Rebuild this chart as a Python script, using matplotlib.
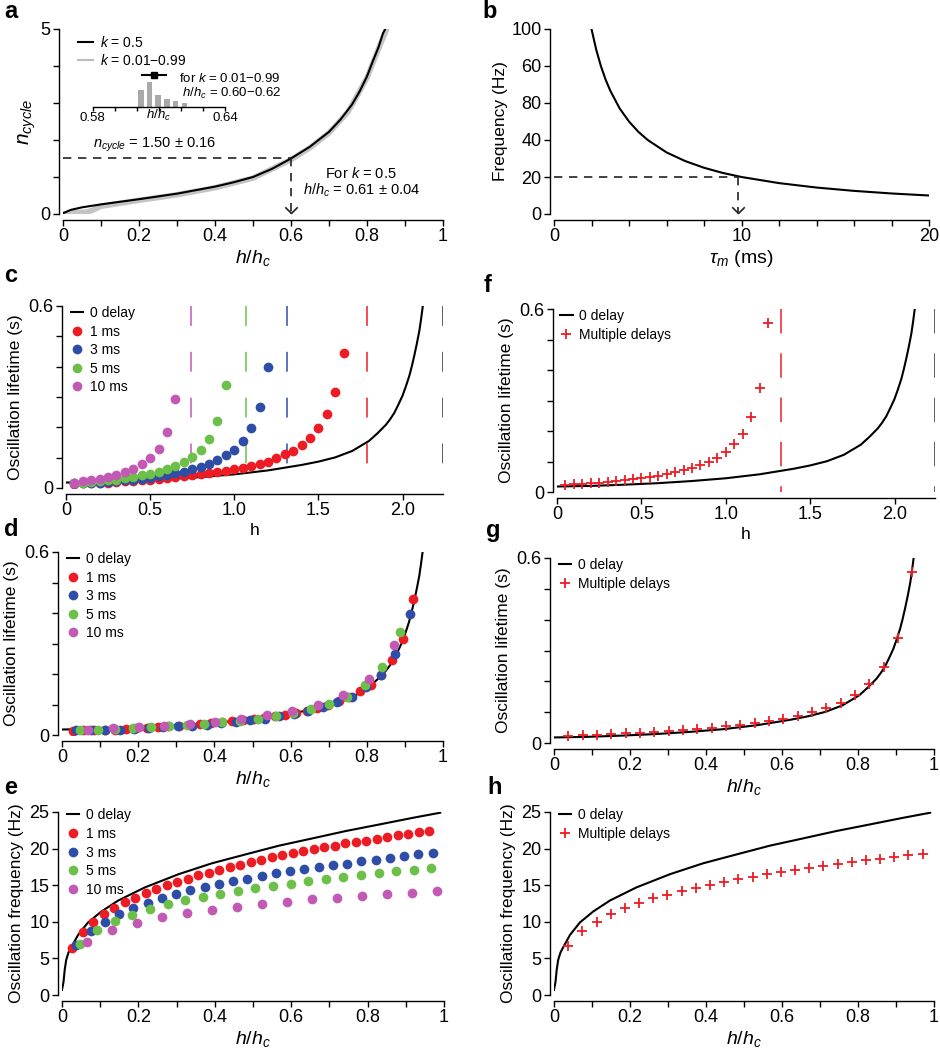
import matplotlib
matplotlib.use('Agg')
import matplotlib.pyplot as plt
import numpy as np
from matplotlib.lines import Line2D

plt.rcParams['font.family'] = ['Liberation Sans', 'DejaVu Sans']
plt.rcParams['mathtext.fontset'] = 'custom'
plt.rcParams['mathtext.rm'] = 'Liberation Sans'
plt.rcParams['mathtext.it'] = 'Liberation Sans:italic'
plt.rcParams['mathtext.bf'] = 'Liberation Sans:bold'
plt.rcParams['axes.linewidth'] = 1.0

# ---------------- data ----------------
# panel a
a_x = [0.0, 0.02, 0.05, 0.1, 0.2, 0.3, 0.4, 0.45, 0.5, 0.55, 0.6, 0.65, 0.7, 0.73, 0.76, 0.78, 0.8, 0.815,
       0.83, 0.842, 0.848]
a_n = [0.02, 0.11, 0.18, 0.26, 0.40, 0.55, 0.74, 0.86, 1.0, 1.22, 1.50, 1.82, 2.22, 2.55, 2.95, 3.3, 3.72, 4.12,
       4.5, 4.88, 5.0]
a_gray_x = [0.0, 0.03, 0.06, 0.075, 0.1, 0.2, 0.3, 0.4, 0.5, 0.6, 0.65, 0.7, 0.75, 0.8, 0.83, 0.852]
a_gray_n = [0.0, 0.04, 0.05, 0.09, 0.21, 0.37, 0.52, 0.71, 0.97, 1.47, 1.79, 2.19, 2.76, 3.68, 4.46, 5.0]
hist_centers = [0.602, 0.6057, 0.6097, 0.6137, 0.6176, 0.6216]
hist_heights = [17, 25, 12, 8, 6, 4]
hist_mean, hist_err, hist_mark_y = 0.6078, 0.006, 32
a_guide_x, a_guide_y = 0.6, 1.5

# panel b
tau_ms = [2, 2.25, 2.5, 2.75, 3, 3.5, 4, 4.5, 5, 6, 7, 8, 9, 10, 12, 14, 16, 18, 20]
freq_hz = [100, 88.9, 80, 72.7, 66.7, 57.1, 50, 44.4, 40, 33.3, 28.6, 25, 22.2, 20, 16.7, 14.3, 12.5, 11.1, 10]
b_guide_x, b_guide_y = 9.8, 20
b_yticks = [0, 20, 40, 60, 80, 100]
b_yticklabels = ['0', '20', '40', '80', '60', '100']

# 0-delay lifetime curve (vs h)
lt0_h = [0.0, 0.2, 0.4, 0.6, 0.8, 1.0, 1.2, 1.4, 1.5, 1.6, 1.7, 1.8, 1.85, 1.9, 1.925, 1.95, 1.975, 2.0, 2.02,
         2.04, 2.055, 2.07, 2.085, 2.1, 2.11, 2.12]
lt0 = [0.018, 0.020, 0.024, 0.029, 0.036, 0.045, 0.058, 0.076, 0.087, 0.101, 0.122, 0.155, 0.18, 0.208, 0.226,
       0.247, 0.275, 0.305, 0.336, 0.37, 0.402, 0.438, 0.477, 0.52, 0.558, 0.60]
hc0 = 2.24

delays = ['1 ms', '3 ms', '5 ms', '10 ms']
colors = ['#ED1C24', '#2E4DA7', '#6CC04A', '#C259B5']
hc_delay = [1.79, 1.315, 1.07, 0.745]

h_1ms = [0.05, 0.10, 0.15, 0.20, 0.25, 0.30, 0.35, 0.40, 0.45, 0.50, 0.55, 0.60, 0.65, 0.70, 0.75, 0.80, 0.85,
         0.90, 0.95, 1.00, 1.05, 1.10, 1.15, 1.20, 1.25, 1.30, 1.35, 1.40, 1.45, 1.50, 1.55, 1.60, 1.65]
lt_1ms = [0.014, 0.015, 0.016, 0.017, 0.018, 0.020, 0.022, 0.024, 0.026, 0.028, 0.031, 0.033, 0.036, 0.039, 0.043,
          0.046, 0.049, 0.053, 0.057, 0.061, 0.066, 0.072, 0.079, 0.087, 0.099, 0.111, 0.123, 0.143, 0.165, 0.198,
          0.245, 0.316, 0.446]
h_3ms = [0.05, 0.10, 0.15, 0.20, 0.25, 0.30, 0.35, 0.40, 0.45, 0.50, 0.55, 0.60, 0.65, 0.70, 0.75, 0.80, 0.85,
         0.90, 0.95, 1.00, 1.05, 1.10, 1.15, 1.20]
lt_3ms = [0.015, 0.016, 0.017, 0.018, 0.021, 0.023, 0.025, 0.028, 0.031, 0.034, 0.038, 0.043, 0.048, 0.054, 0.062,
          0.070, 0.080, 0.091, 0.108, 0.126, 0.156, 0.198, 0.266, 0.398]
h_5ms = [0.05, 0.10, 0.15, 0.20, 0.25, 0.30, 0.35, 0.40, 0.45, 0.50, 0.55, 0.60, 0.65, 0.70, 0.75, 0.80, 0.85,
         0.90, 0.95]
lt_5ms = [0.016, 0.017, 0.020, 0.022, 0.025, 0.028, 0.032, 0.036, 0.042, 0.047, 0.054, 0.062, 0.073, 0.086, 0.102,
          0.126, 0.163, 0.222, 0.338]
h_10ms = [0.05, 0.10, 0.15, 0.20, 0.25, 0.30, 0.35, 0.40, 0.45, 0.50, 0.55, 0.60, 0.65]
lt_10ms = [0.018, 0.022, 0.026, 0.031, 0.036, 0.043, 0.052, 0.064, 0.078, 0.100, 0.130, 0.184, 0.295]

# multiple delays lifetime
h_multi = [0.05, 0.10, 0.15, 0.20, 0.25, 0.30, 0.35, 0.40, 0.45, 0.50, 0.55, 0.60, 0.65, 0.70, 0.75, 0.80, 0.85,
           0.90, 0.95, 1.00, 1.05, 1.10, 1.15, 1.20, 1.25]
lt_multi = [0.023, 0.025, 0.027, 0.029, 0.031, 0.034, 0.037, 0.040, 0.043, 0.046, 0.049, 0.054, 0.059, 0.065,
            0.071, 0.079, 0.088, 0.099, 0.113, 0.131, 0.156, 0.191, 0.245, 0.340, 0.555]
hc_multi = 1.325

# frequency data (panels e, h)
f0_x = [0.0, 0.004, 0.007, 0.011, 0.017, 0.025, 0.042, 0.068, 0.103, 0.147, 0.217, 0.305, 0.393, 0.48, 0.568,
        0.656, 0.743, 0.831, 0.918, 0.99]
f0 = [0.7, 1.8, 3.4, 4.8, 5.8, 6.6, 8.2, 9.9, 11.4, 12.9, 14.7, 16.5, 18.0, 19.2, 20.4, 21.4, 22.4, 23.3, 24.2, 24.9]

fh_1ms = [0.05, 0.10, 0.15, 0.20, 0.25, 0.30, 0.35, 0.40, 0.45, 0.50, 0.55, 0.60, 0.65, 0.70, 0.75, 0.80, 0.85,
          0.90, 0.95, 1.00, 1.05, 1.10, 1.15, 1.20, 1.25, 1.30, 1.35, 1.40, 1.45, 1.50, 1.55, 1.60, 1.65, 1.70, 1.75]
f_1ms = [6.45, 8.6, 10.0, 11.05, 11.95, 12.7, 13.3, 13.95, 14.5, 15.0, 15.5, 15.9, 16.35, 16.7, 17.1, 17.5, 17.8,
         18.2, 18.5, 18.8, 19.1, 19.4, 19.7, 19.95, 20.2, 20.4, 20.7, 20.9, 21.1, 21.3, 21.6, 21.8, 21.95, 22.2, 22.4]
fh_3ms = [0.05, 0.10, 0.15, 0.20, 0.25, 0.30, 0.35, 0.40, 0.45, 0.50, 0.55, 0.60, 0.65, 0.70, 0.75, 0.80, 0.85,
          0.90, 0.95, 1.00, 1.05, 1.10, 1.15, 1.20, 1.25, 1.30]
f_3ms = [6.8, 8.7, 10.0, 11.05, 11.9, 12.6, 13.2, 13.8, 14.3, 14.7, 15.15, 15.6, 15.9, 16.3, 16.6, 16.95, 17.2,
         17.5, 17.7, 17.95, 18.3, 18.5, 18.7, 18.95, 19.2, 19.4]
fh_5ms = [0.05, 0.10, 0.15, 0.20, 0.25, 0.30, 0.35, 0.40, 0.45, 0.50, 0.55, 0.60, 0.65, 0.70, 0.75, 0.80, 0.85,
          0.90, 0.95, 1.00, 1.05]
f_5ms = [7.0, 8.85, 10.1, 10.9, 11.7, 12.4, 12.95, 13.4, 13.85, 14.2, 14.6, 14.95, 15.2, 15.6, 15.9, 16.1, 16.45,
         16.7, 16.9, 17.1, 17.3]
fh_10ms = [0.05, 0.10, 0.15, 0.20, 0.25, 0.30, 0.35, 0.40, 0.45, 0.50, 0.55, 0.60, 0.65, 0.70, 0.75]
f_10ms = [7.25, 8.85, 9.85, 10.7, 11.15, 11.6, 12.05, 12.4, 12.75, 13.05, 13.3, 13.55, 13.75, 13.95, 14.15]
hc_freq = [1.82, 1.34, 1.086, 0.763]

fh_multi = [0.05, 0.10, 0.15, 0.20, 0.25, 0.30, 0.35, 0.40, 0.45, 0.50, 0.55, 0.60, 0.65, 0.70, 0.75, 0.80, 0.85,
            0.90, 0.95, 1.00, 1.05, 1.10, 1.15, 1.20, 1.25, 1.30]
f_multi = [6.7, 8.7, 10.0, 11.05, 11.95, 12.6, 13.2, 13.7, 14.2, 14.6, 15.0, 15.45, 15.8, 16.1, 16.5, 16.8, 17.1,
           17.4, 17.6, 17.9, 18.15, 18.4, 18.6, 18.85, 19.1, 19.3]
hc_freq_multi = 1.34

lt_h_sets = [h_1ms, h_3ms, h_5ms, h_10ms]
lt_sets = [lt_1ms, lt_3ms, lt_5ms, lt_10ms]
f_h_sets = [fh_1ms, fh_3ms, fh_5ms, fh_10ms]
f_sets = [f_1ms, f_3ms, f_5ms, f_10ms]

# ---------------- figure ----------------
W, H = 940, 1050
fig = plt.figure(figsize=(9.4, 10.5), dpi=100)


def add_ax(x0, x1, ytop, ybot):
    return fig.add_axes([x0 / W, 1 - ybot / H, (x1 - x0) / W, (ybot - ytop) / H])


TICK_FS = 13
LAB_FS = 12.5
LEG_FS = 10
RED = '#ED1C24'


def style(ax, xlim, ylim, xticks, xlabels, yticks, ylabels):
    for s in ['top', 'right']:
        ax.spines[s].set_visible(False)
    ax.spines['left'].set_position(('outward', 3))
    ax.spines['bottom'].set_position(('outward', 4))
    ax.set_xlim(*xlim)
    ax.set_ylim(*ylim)
    ax.set_xticks(xticks)
    ax.set_xticklabels(xlabels)
    ax.set_yticks(yticks)
    ax.set_yticklabels(ylabels)
    ax.tick_params(direction='out', length=4, width=1, labelsize=TICK_FS, pad=2)


hx_ticks = [0, 0.1, 0.2, 0.3, 0.4, 0.5, 0.6, 0.7, 0.8, 0.9, 1.0]
hx_labels = ['0', '', '0.2', '', '0.4', '', '0.6', '', '0.8', '', '1']
lt_yticks = [0, 0.1, 0.2, 0.3, 0.4, 0.5, 0.6]
lt_ylabels = ['0', '', '', '', '', '', '0.6']
h_ticks = [0, 0.5, 1.0, 1.5, 2.0]
h_labels = ['0', '0.5', '1.0', '1.5', '2.0']
fr_ticks = [0, 5, 10, 15, 20, 25]
fr_labels = ['0', '5', '10', '15', '20', '25']

vee = [(-1, 1), (0, 0), (1, 1)]

# ---- panel a ----
ax = add_ax(63, 443, 29, 214)
style(ax, (0, 1), (0, 5), hx_ticks, hx_labels, [0, 1, 2, 3, 4, 5], ['0', '', '', '', '', '5'])
ax.plot(a_gray_x, a_gray_n, color='#c4c4c4', lw=4, solid_capstyle='round')
ax.plot(a_x, a_n, color='black', lw=1.5)
ax.plot([0, a_guide_x], [a_guide_y, a_guide_y], color='#222222', lw=1.2, dashes=(5, 4))
ax.plot([a_guide_x, a_guide_x], [a_guide_y, 0.05], color='#222222', lw=1.2, dashes=(5, 4))
ax.plot([a_guide_x], [0.02], marker=vee, ms=9, mfc='none', mec='#222222', mew=1.2, clip_on=False)
ax.set_xlabel(r'$h/h_c$', fontsize=14, labelpad=2)
ax.set_ylabel(r'$n_{cycle}$', fontsize=15, labelpad=2)
ax.legend([Line2D([], [], color='black', lw=1.5), Line2D([], [], color='#bdbdbd', lw=1.5)],
          [r'$k$ = 0.5', r'$k$ = 0.01−0.99'], loc='upper left', bbox_to_anchor=(0.04, 0.97),
          frameon=False, fontsize=LEG_FS, handlelength=1.1, handletextpad=0.5, labelspacing=0.25,
          borderaxespad=0, borderpad=0)
ax.text(0.08, 1.86, r'$n_{cycle}$ = 1.50 ± 0.16', fontsize=10.5, ha='left', va='center')
ax.text(0.785, 1.1, r'For $k$ = 0.5', fontsize=10.5, ha='center', va='center')
ax.text(0.785, 0.65, r'$h/h_c$ = 0.61 ± 0.04', fontsize=10.5, ha='center', va='center')
ax.text(0.573, 3.66, r'for $k$ = 0.01−0.99', fontsize=9.5, ha='right', va='center')
ax.text(0.573, 3.25, r'$h/h_c$ = 0.60−0.62', fontsize=9.5, ha='right', va='center')

# inset
axi = add_ax(92.7, 225, 66.7, 106.7)
axi.set_xlim(0.58, 0.64)
axi.set_ylim(0, 40)
for s in ['top', 'right', 'left']:
    axi.spines[s].set_visible(False)
axi.patch.set_alpha(0)
axi.set_yticks([])
axi.set_xticks([0.58, 0.59, 0.60, 0.61, 0.62, 0.63, 0.64])
axi.set_xticklabels(['0.58', '', '', '', '', '', '0.64'])
axi.tick_params(direction='out', length=3, width=1, labelsize=9.5, pad=1)
axi.bar(hist_centers, hist_heights, width=0.0025, color='#a9a9a9')
axi.errorbar([hist_mean], [hist_mark_y], xerr=[hist_err], fmt='s', color='black', ms=5, lw=1.5, capsize=0)
axi.text(0.61, -1.6, r'$h/h_c$', fontsize=9.5, ha='center', va='top')

# ---- panel b ----
ax = add_ax(554, 929, 29, 214)
style(ax, (0, 20), (0, 100), [0, 2, 4, 6, 8, 10, 12, 14, 16, 18, 20],
      ['0', '', '', '', '', '10', '', '', '', '', '20'], b_yticks, b_yticklabels)
ax.plot(tau_ms, freq_hz, color='black', lw=1.5)
ax.plot([0, b_guide_x], [b_guide_y, b_guide_y], color='#222222', lw=1.2, dashes=(5, 4))
ax.plot([b_guide_x, b_guide_x], [b_guide_y, 1.0], color='#222222', lw=1.2, dashes=(5, 4))
ax.plot([b_guide_x], [0.4], marker=vee, ms=9, mfc='none', mec='#222222', mew=1.2, clip_on=False)
ax.set_xlabel(r'$\tau_m$ (ms)', fontsize=14, labelpad=2)
ax.set_ylabel('Frequency (Hz)', fontsize=LAB_FS, labelpad=2)


def delay_legend(ax, anchor):
    handles = [Line2D([], [], color='black', lw=1.5)]
    for c in colors:
        handles.append(Line2D([], [], ls='', marker='o', ms=7, color=c, mec='none'))
    ax.legend(handles, ['0 delay'] + delays, loc='upper left', bbox_to_anchor=anchor, frameon=False,
              fontsize=LEG_FS, handlelength=0.9, handletextpad=0.5, labelspacing=0.33,
              borderaxespad=0, borderpad=0)


def multi_legend(ax, anchor):
    handles = [Line2D([], [], color='black', lw=1.5),
               Line2D([], [], ls='', marker='+', ms=7, mew=1.3, color=RED)]
    ax.legend(handles, ['0 delay', 'Multiple delays'], loc='upper left', bbox_to_anchor=anchor,
              frameon=False, fontsize=LEG_FS, handlelength=0.9, handletextpad=0.5, labelspacing=0.35,
              borderaxespad=0, borderpad=0)


def vdash(ax, x, color, dashes):
    # drawn from the top down so the dash pattern starts at the top
    ax.plot([x, x], [0.6, 0.0], color=color, lw=1.1, dashes=dashes)


# ---- panel c ----
ax = add_ax(66, 443, 306, 488)
style(ax, (0, hc0), (0, 0.6), h_ticks, h_labels, lt_yticks, lt_ylabels)
for hc, c in zip(hc_delay, colors):
    vdash(ax, hc, c, (13, 17))
vdash(ax, hc0, '#333333', (13, 17))
ax.plot(lt0_h, lt0, color='black', lw=1.5)
for hh, lt, c in zip(lt_h_sets, lt_sets, colors):
    ax.plot(hh, lt, ls='', marker='o', ms=7, color=c, mec='none')
ax.set_xlabel('h', fontsize=LAB_FS, labelpad=3)
ax.set_ylabel('Oscillation lifetime (s)', fontsize=LAB_FS, labelpad=4)
delay_legend(ax, (0.012, 1.0))

# ---- panel f ----
ax = add_ax(557, 935, 309, 492)
style(ax, (0, hc0), (0, 0.6), h_ticks, h_labels, lt_yticks, lt_ylabels)
vdash(ax, hc_multi, RED, (16, 13))
vdash(ax, hc0, '#333333', (16, 13))
ax.plot(lt0_h, lt0, color='black', lw=1.5)
ax.plot(h_multi, lt_multi, ls='', marker='+', ms=7, mew=1.3, color=RED)
ax.set_xlabel('h', fontsize=LAB_FS, labelpad=3)
ax.set_ylabel('Oscillation lifetime (s)', fontsize=LAB_FS, labelpad=4)
multi_legend(ax, (0.008, 1.0))

# ---- panel d ----
ax = add_ax(62, 443, 552, 735)
style(ax, (0, 1), (0, 0.6), hx_ticks, hx_labels, lt_yticks, lt_ylabels)
ax.plot(np.array(lt0_h) / hc0, lt0, color='black', lw=1.5)
for hh, lt, hc, c in zip(lt_h_sets, lt_sets, hc_delay, colors):
    ax.plot(np.array(hh) / hc, lt, ls='', marker='o', ms=7, color=c, mec='none')
ax.set_xlabel(r'$h/h_c$', fontsize=14, labelpad=2)
ax.set_ylabel('Oscillation lifetime (s)', fontsize=LAB_FS, labelpad=4)
delay_legend(ax, (0.012, 1.0))

# ---- panel g ----
ax = add_ax(554, 934, 558, 743)
style(ax, (0, 1), (0, 0.6), hx_ticks, hx_labels, lt_yticks, lt_ylabels)
ax.plot(np.array(lt0_h) / hc0, lt0, color='black', lw=1.5)
ax.plot(np.array(h_multi) / hc_multi, lt_multi, ls='', marker='+', ms=7, mew=1.3, color=RED)
ax.set_xlabel(r'$h/h_c$', fontsize=14, labelpad=2)
ax.set_ylabel('Oscillation lifetime (s)', fontsize=LAB_FS, labelpad=4)
multi_legend(ax, (0.012, 1.0))

# ---- panel e ----
ax = add_ax(62, 444, 812, 995)
style(ax, (0, 1), (0, 25), hx_ticks, hx_labels, fr_ticks, fr_labels)
ax.plot(f0_x, f0, color='black', lw=1.5)
for hh, ff, hc, c in zip(f_h_sets, f_sets, hc_freq, colors):
    ax.plot(np.array(hh) / hc, ff, ls='', marker='o', ms=7, color=c, mec='none')
ax.set_xlabel(r'$h/h_c$', fontsize=14, labelpad=2)
ax.set_ylabel('Oscillation frequency (Hz)', fontsize=LAB_FS, labelpad=4)
delay_legend(ax, (0.012, 1.02))

# ---- panel h ----
ax = add_ax(554, 934, 812, 995)
style(ax, (0, 1), (0, 25), hx_ticks, hx_labels, fr_ticks, fr_labels)
ax.plot(f0_x, f0, color='black', lw=1.5)
ax.plot(np.array(fh_multi) / hc_freq_multi, f_multi, ls='', marker='+', ms=7, mew=1.3, color=RED)
ax.set_xlabel(r'$h/h_c$', fontsize=14, labelpad=2)
ax.set_ylabel('Oscillation frequency (Hz)', fontsize=LAB_FS, labelpad=4)
multi_legend(ax, (0.012, 1.02))

# panel letters
for letter, (px, py) in zip('abcfdgeh', [(4, 12), (482, 12), (4, 276), (484, 286), (4, 529), (486, 531),
                                          (4, 787), (487, 787)]):
    fig.text(px / W, 1 - py / H, letter, fontsize=17, fontweight='bold', ha='left', va='center')

fig.savefig('out.png', dpi=100)
